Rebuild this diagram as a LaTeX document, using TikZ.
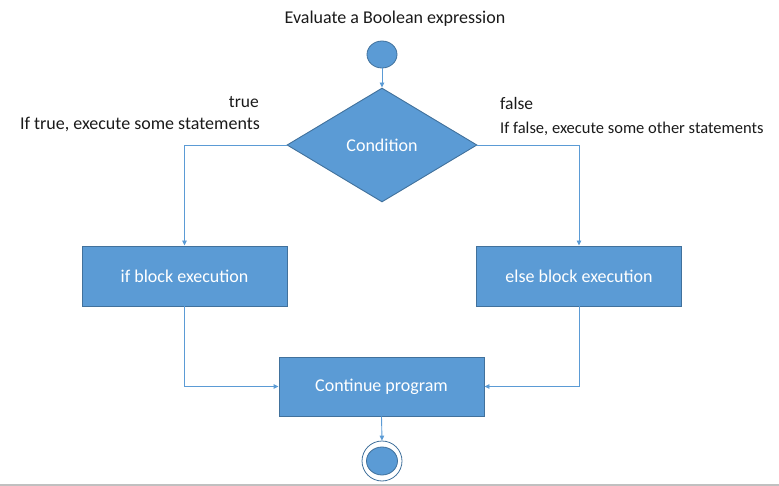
\documentclass[tikz,border=0pt]{standalone}
\usepackage{fontspec}
\setmainfont{Carlito}
\usetikzlibrary{shapes.geometric,arrows.meta}
\definecolor{ofblue}{HTML}{5B9BD5}
\definecolor{ofedge}{HTML}{41719C}
\definecolor{txt}{HTML}{1A1A1A}
\begin{document}
\begin{tikzpicture}[x=1pt,y=-1pt,
  every node/.style={font=\fontsize{18}{21}\selectfont},
  blk/.style={rectangle,fill=ofblue,draw=ofedge,line width=0.9pt,text=white,inner sep=0pt,minimum width=205pt,minimum height=60pt},
  dia/.style={diamond,fill=ofblue,draw=ofedge,line width=0.9pt,text=white,inner sep=0pt,minimum width=190pt,minimum height=114pt},
  dot/.style={ellipse,fill=ofblue,draw=ofedge,line width=0.8pt,inner sep=0pt},
  lbl/.style={text=txt,inner sep=0pt},
  arr/.style={draw=ofblue,line width=0.9pt,-{Triangle[length=5pt,width=4.5pt]}}]
\useasboundingbox (0,0) rectangle (779,486);
\draw[draw={rgb,255:red,192;green,192;blue,192},line width=1.5pt] (0,485) -- (779,485);
\node[lbl] (title) at (395,18.5) {Evaluate a Boolean expression};
\node[dot,minimum width=30pt,minimum height=27pt] (start) at (382,54.5) {};
\node[dia] (cond) at (382,145) {Condition};
\node[blk] (ifb) at (184.5,276) {if block execution};
\node[blk] (elseb) at (579,276) {else block execution};
\node[blk,minimum width=205pt,minimum height=59pt] (cont) at (381.5,386.5) {\raisebox{-1.5pt}{Continue program}};
\node[ellipse,draw=ofedge,fill=white,line width=0.8pt,minimum width=40pt,minimum height=40pt,inner sep=0pt] (endo) at (382,461) {};
\node[dot,minimum width=31pt,minimum height=28pt] (endi) at (382,461) {};
\node[lbl,anchor=east,font=\fontsize{17.5}{20}\selectfont] (tl) at (259,102) {true};
\node[lbl,anchor=east] (tt) at (260,124) {If true, execute some statements};
\node[lbl,anchor=west,font=\fontsize{17.5}{20}\selectfont] (fl) at (500,103) {false};
\node[lbl,anchor=west,font=\fontsize{16.5}{20}\selectfont] (ft) at (500,129) {If false, execute some other statements};
\draw[arr] (start) -- (cond.north);
\draw[arr] (cond.west) -| (ifb.north);
\draw[arr] (cond.east) -| (elseb.north);
\draw[arr] (ifb.south) |- (cont.west);
\draw[arr] (elseb.south) |- (cont.east);
\draw[arr] (cont.south) -- (endo.north);
\end{tikzpicture}
\end{document}
